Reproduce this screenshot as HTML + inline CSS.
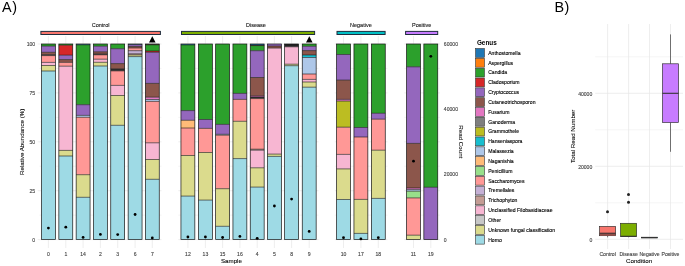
<!DOCTYPE html><html><head><meta charset="utf-8"><style>html,body{margin:0;padding:0;background:#fff;width:685px;height:266px;overflow:hidden}svg{display:block;will-change:transform}text{font-family:"Liberation Sans", sans-serif}.t{stroke:currentColor;stroke-width:0.12}</style></head><body>
<svg width="685" height="266" viewBox="0 0 685 266">
<rect width="685" height="266" fill="#fff"/>
<text x="2.0" y="12.3" font-size="14.4" letter-spacing="0.7" fill="#000">A)</text>
<text x="554.4" y="12.1" font-size="14.4" letter-spacing="0.5" fill="#000">B)</text>
<line x1="39.50" x2="161.50" y1="215.15" y2="215.15" stroke="#ececec" stroke-width="0.6"/>
<line x1="39.50" x2="161.50" y1="166.25" y2="166.25" stroke="#ececec" stroke-width="0.6"/>
<line x1="39.50" x2="161.50" y1="117.35" y2="117.35" stroke="#ececec" stroke-width="0.6"/>
<line x1="39.50" x2="161.50" y1="68.45" y2="68.45" stroke="#ececec" stroke-width="0.6"/>
<line x1="39.50" x2="161.50" y1="239.60" y2="239.60" stroke="#e6e6e6" stroke-width="0.7"/>
<line x1="39.50" x2="161.50" y1="190.70" y2="190.70" stroke="#e6e6e6" stroke-width="0.7"/>
<line x1="39.50" x2="161.50" y1="141.80" y2="141.80" stroke="#e6e6e6" stroke-width="0.7"/>
<line x1="39.50" x2="161.50" y1="92.90" y2="92.90" stroke="#e6e6e6" stroke-width="0.7"/>
<line x1="39.50" x2="161.50" y1="44.00" y2="44.00" stroke="#e6e6e6" stroke-width="0.7"/>
<line x1="178.30" x2="318.50" y1="215.15" y2="215.15" stroke="#ececec" stroke-width="0.6"/>
<line x1="178.30" x2="318.50" y1="166.25" y2="166.25" stroke="#ececec" stroke-width="0.6"/>
<line x1="178.30" x2="318.50" y1="117.35" y2="117.35" stroke="#ececec" stroke-width="0.6"/>
<line x1="178.30" x2="318.50" y1="68.45" y2="68.45" stroke="#ececec" stroke-width="0.6"/>
<line x1="178.30" x2="318.50" y1="239.60" y2="239.60" stroke="#e6e6e6" stroke-width="0.7"/>
<line x1="178.30" x2="318.50" y1="190.70" y2="190.70" stroke="#e6e6e6" stroke-width="0.7"/>
<line x1="178.30" x2="318.50" y1="141.80" y2="141.80" stroke="#e6e6e6" stroke-width="0.7"/>
<line x1="178.30" x2="318.50" y1="92.90" y2="92.90" stroke="#e6e6e6" stroke-width="0.7"/>
<line x1="178.30" x2="318.50" y1="44.00" y2="44.00" stroke="#e6e6e6" stroke-width="0.7"/>
<line x1="334.80" x2="387.50" y1="215.15" y2="215.15" stroke="#ececec" stroke-width="0.6"/>
<line x1="334.80" x2="387.50" y1="166.25" y2="166.25" stroke="#ececec" stroke-width="0.6"/>
<line x1="334.80" x2="387.50" y1="117.35" y2="117.35" stroke="#ececec" stroke-width="0.6"/>
<line x1="334.80" x2="387.50" y1="68.45" y2="68.45" stroke="#ececec" stroke-width="0.6"/>
<line x1="334.80" x2="387.50" y1="239.60" y2="239.60" stroke="#e6e6e6" stroke-width="0.7"/>
<line x1="334.80" x2="387.50" y1="190.70" y2="190.70" stroke="#e6e6e6" stroke-width="0.7"/>
<line x1="334.80" x2="387.50" y1="141.80" y2="141.80" stroke="#e6e6e6" stroke-width="0.7"/>
<line x1="334.80" x2="387.50" y1="92.90" y2="92.90" stroke="#e6e6e6" stroke-width="0.7"/>
<line x1="334.80" x2="387.50" y1="44.00" y2="44.00" stroke="#e6e6e6" stroke-width="0.7"/>
<line x1="404.30" x2="440.00" y1="215.15" y2="215.15" stroke="#ececec" stroke-width="0.6"/>
<line x1="404.30" x2="440.00" y1="166.25" y2="166.25" stroke="#ececec" stroke-width="0.6"/>
<line x1="404.30" x2="440.00" y1="117.35" y2="117.35" stroke="#ececec" stroke-width="0.6"/>
<line x1="404.30" x2="440.00" y1="68.45" y2="68.45" stroke="#ececec" stroke-width="0.6"/>
<line x1="404.30" x2="440.00" y1="239.60" y2="239.60" stroke="#e6e6e6" stroke-width="0.7"/>
<line x1="404.30" x2="440.00" y1="190.70" y2="190.70" stroke="#e6e6e6" stroke-width="0.7"/>
<line x1="404.30" x2="440.00" y1="141.80" y2="141.80" stroke="#e6e6e6" stroke-width="0.7"/>
<line x1="404.30" x2="440.00" y1="92.90" y2="92.90" stroke="#e6e6e6" stroke-width="0.7"/>
<line x1="404.30" x2="440.00" y1="44.00" y2="44.00" stroke="#e6e6e6" stroke-width="0.7"/>
<line x1="48.40" x2="48.40" y1="36.00" y2="248.00" stroke="#e6e6e6" stroke-width="0.7"/>
<line x1="65.80" x2="65.80" y1="36.00" y2="248.00" stroke="#e6e6e6" stroke-width="0.7"/>
<line x1="83.10" x2="83.10" y1="36.00" y2="248.00" stroke="#e6e6e6" stroke-width="0.7"/>
<line x1="100.40" x2="100.40" y1="36.00" y2="248.00" stroke="#e6e6e6" stroke-width="0.7"/>
<line x1="117.70" x2="117.70" y1="36.00" y2="248.00" stroke="#e6e6e6" stroke-width="0.7"/>
<line x1="135.10" x2="135.10" y1="36.00" y2="248.00" stroke="#e6e6e6" stroke-width="0.7"/>
<line x1="152.30" x2="152.30" y1="36.00" y2="248.00" stroke="#e6e6e6" stroke-width="0.7"/>
<line x1="187.90" x2="187.90" y1="36.00" y2="248.00" stroke="#e6e6e6" stroke-width="0.7"/>
<line x1="205.40" x2="205.40" y1="36.00" y2="248.00" stroke="#e6e6e6" stroke-width="0.7"/>
<line x1="222.60" x2="222.60" y1="36.00" y2="248.00" stroke="#e6e6e6" stroke-width="0.7"/>
<line x1="239.90" x2="239.90" y1="36.00" y2="248.00" stroke="#e6e6e6" stroke-width="0.7"/>
<line x1="257.20" x2="257.20" y1="36.00" y2="248.00" stroke="#e6e6e6" stroke-width="0.7"/>
<line x1="274.40" x2="274.40" y1="36.00" y2="248.00" stroke="#e6e6e6" stroke-width="0.7"/>
<line x1="291.60" x2="291.60" y1="36.00" y2="248.00" stroke="#e6e6e6" stroke-width="0.7"/>
<line x1="309.20" x2="309.20" y1="36.00" y2="248.00" stroke="#e6e6e6" stroke-width="0.7"/>
<line x1="343.50" x2="343.50" y1="36.00" y2="248.00" stroke="#e6e6e6" stroke-width="0.7"/>
<line x1="360.90" x2="360.90" y1="36.00" y2="248.00" stroke="#e6e6e6" stroke-width="0.7"/>
<line x1="378.30" x2="378.30" y1="36.00" y2="248.00" stroke="#e6e6e6" stroke-width="0.7"/>
<line x1="413.50" x2="413.50" y1="36.00" y2="248.00" stroke="#e6e6e6" stroke-width="0.7"/>
<line x1="430.80" x2="430.80" y1="36.00" y2="248.00" stroke="#e6e6e6" stroke-width="0.7"/>
<rect x="40.90" y="31.4" width="119.50" height="3.1" fill="#F8766D" stroke="#1f2d3d" stroke-width="1.0"/>
<text x="100.60" y="27.0" font-size="5.5" fill="#1a1a1a" class="t" style="color:#1a1a1a" text-anchor="middle">Control</text>
<rect x="181.50" y="31.4" width="133.10" height="3.1" fill="#7CAE00" stroke="#1f2d3d" stroke-width="1.0"/>
<text x="255.90" y="27.0" font-size="5.5" fill="#1a1a1a" class="t" style="color:#1a1a1a" text-anchor="middle">Disease</text>
<rect x="337.00" y="31.4" width="48.10" height="3.1" fill="#00BFC4" stroke="#1f2d3d" stroke-width="1.0"/>
<text x="360.90" y="27.0" font-size="5.5" fill="#1a1a1a" class="t" style="color:#1a1a1a" text-anchor="middle">Negative</text>
<rect x="405.60" y="31.4" width="32.10" height="3.1" fill="#C77CFF" stroke="#1f2d3d" stroke-width="1.0"/>
<text x="421.70" y="27.0" font-size="5.5" fill="#1a1a1a" class="t" style="color:#1a1a1a" text-anchor="middle">Positive</text>
<rect x="41.45" y="44.00" width="13.90" height="2.10" fill="#2ca02c"/>
<rect x="41.45" y="46.10" width="13.90" height="6.20" fill="#9467bd"/>
<rect x="41.45" y="52.30" width="13.90" height="2.40" fill="#8c564b"/>
<rect x="41.45" y="54.70" width="13.90" height="0.90" fill="#333333"/>
<rect x="41.45" y="55.60" width="13.90" height="6.80" fill="#ff9896"/>
<rect x="41.45" y="62.40" width="13.90" height="3.10" fill="#f7b6d2"/>
<rect x="41.45" y="65.50" width="13.90" height="5.50" fill="#dbdb8d"/>
<rect x="41.45" y="71.00" width="13.90" height="168.60" fill="#9edae5"/>
<line x1="41.45" x2="55.35" y1="46.10" y2="46.10" stroke="#141414" stroke-width="0.6"/>
<line x1="41.45" x2="55.35" y1="52.30" y2="52.30" stroke="#141414" stroke-width="0.6"/>
<line x1="41.45" x2="55.35" y1="54.70" y2="54.70" stroke="#141414" stroke-width="0.6"/>
<line x1="41.45" x2="55.35" y1="55.60" y2="55.60" stroke="#141414" stroke-width="0.6"/>
<line x1="41.45" x2="55.35" y1="62.40" y2="62.40" stroke="#141414" stroke-width="0.6"/>
<line x1="41.45" x2="55.35" y1="65.50" y2="65.50" stroke="#141414" stroke-width="0.6"/>
<line x1="41.45" x2="55.35" y1="71.00" y2="71.00" stroke="#141414" stroke-width="0.6"/>
<rect x="41.45" y="44.00" width="13.90" height="195.60" fill="none" stroke="#141414" stroke-width="0.7"/>
<circle cx="48.40" cy="228.10" r="1.4" fill="#000"/>
<text x="48.40" y="255.6" font-size="5.1" fill="#444" class="t" style="color:#444" text-anchor="middle">0</text>
<rect x="58.85" y="44.00" width="13.90" height="1.20" fill="#2ca02c"/>
<rect x="58.85" y="45.20" width="13.90" height="10.00" fill="#d62728"/>
<rect x="58.85" y="55.20" width="13.90" height="4.40" fill="#9467bd"/>
<rect x="58.85" y="59.60" width="13.90" height="2.80" fill="#8c564b"/>
<rect x="58.85" y="62.40" width="13.90" height="3.80" fill="#ff9896"/>
<rect x="58.85" y="66.20" width="13.90" height="84.20" fill="#f7b6d2"/>
<rect x="58.85" y="150.40" width="13.90" height="5.60" fill="#dbdb8d"/>
<rect x="58.85" y="156.00" width="13.90" height="83.60" fill="#9edae5"/>
<line x1="58.85" x2="72.75" y1="45.20" y2="45.20" stroke="#141414" stroke-width="0.6"/>
<line x1="58.85" x2="72.75" y1="55.20" y2="55.20" stroke="#141414" stroke-width="0.6"/>
<line x1="58.85" x2="72.75" y1="59.60" y2="59.60" stroke="#141414" stroke-width="0.6"/>
<line x1="58.85" x2="72.75" y1="62.40" y2="62.40" stroke="#141414" stroke-width="0.6"/>
<line x1="58.85" x2="72.75" y1="66.20" y2="66.20" stroke="#141414" stroke-width="0.6"/>
<line x1="58.85" x2="72.75" y1="150.40" y2="150.40" stroke="#141414" stroke-width="0.6"/>
<line x1="58.85" x2="72.75" y1="156.00" y2="156.00" stroke="#141414" stroke-width="0.6"/>
<rect x="58.85" y="44.00" width="13.90" height="195.60" fill="none" stroke="#141414" stroke-width="0.7"/>
<circle cx="65.80" cy="227.20" r="1.4" fill="#000"/>
<text x="65.80" y="255.6" font-size="5.1" fill="#444" class="t" style="color:#444" text-anchor="middle">1</text>
<rect x="76.15" y="44.00" width="13.90" height="0.80" fill="#1f77b4"/>
<rect x="76.15" y="44.80" width="13.90" height="59.90" fill="#2ca02c"/>
<rect x="76.15" y="104.70" width="13.90" height="10.70" fill="#9467bd"/>
<rect x="76.15" y="115.40" width="13.90" height="1.90" fill="#aec7e8"/>
<rect x="76.15" y="117.30" width="13.90" height="57.40" fill="#ff9896"/>
<rect x="76.15" y="174.70" width="13.90" height="22.60" fill="#dbdb8d"/>
<rect x="76.15" y="197.30" width="13.90" height="42.30" fill="#9edae5"/>
<line x1="76.15" x2="90.05" y1="44.80" y2="44.80" stroke="#141414" stroke-width="0.6"/>
<line x1="76.15" x2="90.05" y1="104.70" y2="104.70" stroke="#141414" stroke-width="0.6"/>
<line x1="76.15" x2="90.05" y1="115.40" y2="115.40" stroke="#141414" stroke-width="0.6"/>
<line x1="76.15" x2="90.05" y1="117.30" y2="117.30" stroke="#141414" stroke-width="0.6"/>
<line x1="76.15" x2="90.05" y1="174.70" y2="174.70" stroke="#141414" stroke-width="0.6"/>
<line x1="76.15" x2="90.05" y1="197.30" y2="197.30" stroke="#141414" stroke-width="0.6"/>
<rect x="76.15" y="44.00" width="13.90" height="195.60" fill="none" stroke="#141414" stroke-width="0.7"/>
<circle cx="83.10" cy="237.40" r="1.4" fill="#000"/>
<text x="83.10" y="255.6" font-size="5.1" fill="#444" class="t" style="color:#444" text-anchor="middle">14</text>
<rect x="93.45" y="44.00" width="13.90" height="2.20" fill="#2ca02c"/>
<rect x="93.45" y="46.20" width="13.90" height="5.60" fill="#9467bd"/>
<rect x="93.45" y="51.80" width="13.90" height="2.10" fill="#8c564b"/>
<rect x="93.45" y="53.90" width="13.90" height="0.90" fill="#333333"/>
<rect x="93.45" y="54.80" width="13.90" height="4.40" fill="#ff9896"/>
<rect x="93.45" y="59.20" width="13.90" height="3.10" fill="#f7b6d2"/>
<rect x="93.45" y="62.30" width="13.90" height="3.70" fill="#dbdb8d"/>
<rect x="93.45" y="66.00" width="13.90" height="173.60" fill="#9edae5"/>
<line x1="93.45" x2="107.35" y1="46.20" y2="46.20" stroke="#141414" stroke-width="0.6"/>
<line x1="93.45" x2="107.35" y1="51.80" y2="51.80" stroke="#141414" stroke-width="0.6"/>
<line x1="93.45" x2="107.35" y1="53.90" y2="53.90" stroke="#141414" stroke-width="0.6"/>
<line x1="93.45" x2="107.35" y1="54.80" y2="54.80" stroke="#141414" stroke-width="0.6"/>
<line x1="93.45" x2="107.35" y1="59.20" y2="59.20" stroke="#141414" stroke-width="0.6"/>
<line x1="93.45" x2="107.35" y1="62.30" y2="62.30" stroke="#141414" stroke-width="0.6"/>
<line x1="93.45" x2="107.35" y1="66.00" y2="66.00" stroke="#141414" stroke-width="0.6"/>
<rect x="93.45" y="44.00" width="13.90" height="195.60" fill="none" stroke="#141414" stroke-width="0.7"/>
<circle cx="100.40" cy="234.40" r="1.4" fill="#000"/>
<text x="100.40" y="255.6" font-size="5.1" fill="#444" class="t" style="color:#444" text-anchor="middle">2</text>
<rect x="110.75" y="44.00" width="13.90" height="4.70" fill="#2ca02c"/>
<rect x="110.75" y="48.70" width="13.90" height="14.90" fill="#9467bd"/>
<rect x="110.75" y="63.60" width="13.90" height="5.30" fill="#8c564b"/>
<rect x="110.75" y="68.90" width="13.90" height="2.00" fill="#333333"/>
<rect x="110.75" y="70.90" width="13.90" height="14.50" fill="#ff9896"/>
<rect x="110.75" y="85.40" width="13.90" height="10.10" fill="#f7b6d2"/>
<rect x="110.75" y="95.50" width="13.90" height="29.80" fill="#dbdb8d"/>
<rect x="110.75" y="125.30" width="13.90" height="114.30" fill="#9edae5"/>
<line x1="110.75" x2="124.65" y1="48.70" y2="48.70" stroke="#141414" stroke-width="0.6"/>
<line x1="110.75" x2="124.65" y1="63.60" y2="63.60" stroke="#141414" stroke-width="0.6"/>
<line x1="110.75" x2="124.65" y1="68.90" y2="68.90" stroke="#141414" stroke-width="0.6"/>
<line x1="110.75" x2="124.65" y1="70.90" y2="70.90" stroke="#141414" stroke-width="0.6"/>
<line x1="110.75" x2="124.65" y1="85.40" y2="85.40" stroke="#141414" stroke-width="0.6"/>
<line x1="110.75" x2="124.65" y1="95.50" y2="95.50" stroke="#141414" stroke-width="0.6"/>
<line x1="110.75" x2="124.65" y1="125.30" y2="125.30" stroke="#141414" stroke-width="0.6"/>
<rect x="110.75" y="44.00" width="13.90" height="195.60" fill="none" stroke="#141414" stroke-width="0.7"/>
<circle cx="117.70" cy="234.60" r="1.4" fill="#000"/>
<text x="117.70" y="255.6" font-size="5.1" fill="#444" class="t" style="color:#444" text-anchor="middle">3</text>
<rect x="128.15" y="44.00" width="13.90" height="0.70" fill="#1f77b4"/>
<rect x="128.15" y="44.70" width="13.90" height="1.80" fill="#9467bd"/>
<rect x="128.15" y="46.50" width="13.90" height="1.50" fill="#8c564b"/>
<rect x="128.15" y="48.00" width="13.90" height="2.70" fill="#ff9896"/>
<rect x="128.15" y="50.70" width="13.90" height="3.10" fill="#c5b0d5"/>
<rect x="128.15" y="53.80" width="13.90" height="1.10" fill="#c49c94"/>
<rect x="128.15" y="54.90" width="13.90" height="1.70" fill="#dbdb8d"/>
<rect x="128.15" y="56.60" width="13.90" height="183.00" fill="#9edae5"/>
<line x1="128.15" x2="142.05" y1="44.70" y2="44.70" stroke="#141414" stroke-width="0.6"/>
<line x1="128.15" x2="142.05" y1="46.50" y2="46.50" stroke="#141414" stroke-width="0.6"/>
<line x1="128.15" x2="142.05" y1="48.00" y2="48.00" stroke="#141414" stroke-width="0.6"/>
<line x1="128.15" x2="142.05" y1="50.70" y2="50.70" stroke="#141414" stroke-width="0.6"/>
<line x1="128.15" x2="142.05" y1="53.80" y2="53.80" stroke="#141414" stroke-width="0.6"/>
<line x1="128.15" x2="142.05" y1="54.90" y2="54.90" stroke="#141414" stroke-width="0.6"/>
<line x1="128.15" x2="142.05" y1="56.60" y2="56.60" stroke="#141414" stroke-width="0.6"/>
<rect x="128.15" y="44.00" width="13.90" height="195.60" fill="none" stroke="#141414" stroke-width="0.7"/>
<circle cx="135.10" cy="214.50" r="1.4" fill="#000"/>
<text x="135.10" y="255.6" font-size="5.1" fill="#444" class="t" style="color:#444" text-anchor="middle">6</text>
<rect x="145.35" y="44.00" width="13.90" height="0.80" fill="#3a1a14"/>
<rect x="145.35" y="44.80" width="13.90" height="6.20" fill="#2ca02c"/>
<rect x="145.35" y="51.00" width="13.90" height="1.30" fill="#d62728"/>
<rect x="145.35" y="52.30" width="13.90" height="31.10" fill="#9467bd"/>
<rect x="145.35" y="83.40" width="13.90" height="13.80" fill="#8c564b"/>
<rect x="145.35" y="97.20" width="13.90" height="2.30" fill="#e377c2"/>
<rect x="145.35" y="99.50" width="13.90" height="1.90" fill="#aec7e8"/>
<rect x="145.35" y="101.40" width="13.90" height="41.40" fill="#ff9896"/>
<rect x="145.35" y="142.80" width="13.90" height="16.70" fill="#f7b6d2"/>
<rect x="145.35" y="159.50" width="13.90" height="19.80" fill="#dbdb8d"/>
<rect x="145.35" y="179.30" width="13.90" height="60.30" fill="#9edae5"/>
<line x1="145.35" x2="159.25" y1="44.80" y2="44.80" stroke="#141414" stroke-width="0.6"/>
<line x1="145.35" x2="159.25" y1="51.00" y2="51.00" stroke="#141414" stroke-width="0.6"/>
<line x1="145.35" x2="159.25" y1="52.30" y2="52.30" stroke="#141414" stroke-width="0.6"/>
<line x1="145.35" x2="159.25" y1="83.40" y2="83.40" stroke="#141414" stroke-width="0.6"/>
<line x1="145.35" x2="159.25" y1="97.20" y2="97.20" stroke="#141414" stroke-width="0.6"/>
<line x1="145.35" x2="159.25" y1="99.50" y2="99.50" stroke="#141414" stroke-width="0.6"/>
<line x1="145.35" x2="159.25" y1="101.40" y2="101.40" stroke="#141414" stroke-width="0.6"/>
<line x1="145.35" x2="159.25" y1="142.80" y2="142.80" stroke="#141414" stroke-width="0.6"/>
<line x1="145.35" x2="159.25" y1="159.50" y2="159.50" stroke="#141414" stroke-width="0.6"/>
<line x1="145.35" x2="159.25" y1="179.30" y2="179.30" stroke="#141414" stroke-width="0.6"/>
<rect x="145.35" y="44.00" width="13.90" height="195.60" fill="none" stroke="#141414" stroke-width="0.7"/>
<circle cx="152.30" cy="237.90" r="1.4" fill="#000"/>
<text x="152.30" y="255.6" font-size="5.1" fill="#444" class="t" style="color:#444" text-anchor="middle">7</text>
<rect x="180.95" y="44.00" width="13.90" height="0.90" fill="#1f77b4"/>
<rect x="180.95" y="44.90" width="13.90" height="65.70" fill="#2ca02c"/>
<rect x="180.95" y="110.60" width="13.90" height="9.70" fill="#9467bd"/>
<rect x="180.95" y="120.30" width="13.90" height="7.70" fill="#ffbb78"/>
<rect x="180.95" y="128.00" width="13.90" height="27.50" fill="#ff9896"/>
<rect x="180.95" y="155.50" width="13.90" height="40.60" fill="#dbdb8d"/>
<rect x="180.95" y="196.10" width="13.90" height="43.50" fill="#9edae5"/>
<line x1="180.95" x2="194.85" y1="44.90" y2="44.90" stroke="#141414" stroke-width="0.6"/>
<line x1="180.95" x2="194.85" y1="110.60" y2="110.60" stroke="#141414" stroke-width="0.6"/>
<line x1="180.95" x2="194.85" y1="120.30" y2="120.30" stroke="#141414" stroke-width="0.6"/>
<line x1="180.95" x2="194.85" y1="128.00" y2="128.00" stroke="#141414" stroke-width="0.6"/>
<line x1="180.95" x2="194.85" y1="155.50" y2="155.50" stroke="#141414" stroke-width="0.6"/>
<line x1="180.95" x2="194.85" y1="196.10" y2="196.10" stroke="#141414" stroke-width="0.6"/>
<rect x="180.95" y="44.00" width="13.90" height="195.60" fill="none" stroke="#141414" stroke-width="0.7"/>
<circle cx="187.90" cy="237.00" r="1.4" fill="#000"/>
<text x="187.90" y="255.6" font-size="5.1" fill="#444" class="t" style="color:#444" text-anchor="middle">12</text>
<rect x="198.45" y="44.00" width="13.90" height="75.50" fill="#2ca02c"/>
<rect x="198.45" y="119.50" width="13.90" height="8.90" fill="#9467bd"/>
<rect x="198.45" y="128.40" width="13.90" height="24.10" fill="#ff9896"/>
<rect x="198.45" y="152.50" width="13.90" height="47.60" fill="#dbdb8d"/>
<rect x="198.45" y="200.10" width="13.90" height="39.50" fill="#9edae5"/>
<line x1="198.45" x2="212.35" y1="119.50" y2="119.50" stroke="#141414" stroke-width="0.6"/>
<line x1="198.45" x2="212.35" y1="128.40" y2="128.40" stroke="#141414" stroke-width="0.6"/>
<line x1="198.45" x2="212.35" y1="152.50" y2="152.50" stroke="#141414" stroke-width="0.6"/>
<line x1="198.45" x2="212.35" y1="200.10" y2="200.10" stroke="#141414" stroke-width="0.6"/>
<rect x="198.45" y="44.00" width="13.90" height="195.60" fill="none" stroke="#141414" stroke-width="0.7"/>
<circle cx="205.40" cy="237.00" r="1.4" fill="#000"/>
<text x="205.40" y="255.6" font-size="5.1" fill="#444" class="t" style="color:#444" text-anchor="middle">13</text>
<rect x="215.65" y="44.00" width="13.90" height="80.40" fill="#2ca02c"/>
<rect x="215.65" y="124.40" width="13.90" height="9.90" fill="#9467bd"/>
<rect x="215.65" y="134.30" width="13.90" height="0.90" fill="#aec7e8"/>
<rect x="215.65" y="135.20" width="13.90" height="53.50" fill="#ff9896"/>
<rect x="215.65" y="188.70" width="13.90" height="37.60" fill="#dbdb8d"/>
<rect x="215.65" y="226.30" width="13.90" height="13.30" fill="#9edae5"/>
<line x1="215.65" x2="229.55" y1="124.40" y2="124.40" stroke="#141414" stroke-width="0.6"/>
<line x1="215.65" x2="229.55" y1="134.30" y2="134.30" stroke="#141414" stroke-width="0.6"/>
<line x1="215.65" x2="229.55" y1="135.20" y2="135.20" stroke="#141414" stroke-width="0.6"/>
<line x1="215.65" x2="229.55" y1="188.70" y2="188.70" stroke="#141414" stroke-width="0.6"/>
<line x1="215.65" x2="229.55" y1="226.30" y2="226.30" stroke="#141414" stroke-width="0.6"/>
<rect x="215.65" y="44.00" width="13.90" height="195.60" fill="none" stroke="#141414" stroke-width="0.7"/>
<circle cx="222.60" cy="237.50" r="1.4" fill="#000"/>
<text x="222.60" y="255.6" font-size="5.1" fill="#444" class="t" style="color:#444" text-anchor="middle">15</text>
<rect x="232.95" y="44.00" width="13.90" height="49.40" fill="#2ca02c"/>
<rect x="232.95" y="93.40" width="13.90" height="6.00" fill="#9467bd"/>
<rect x="232.95" y="99.40" width="13.90" height="21.90" fill="#ff9896"/>
<rect x="232.95" y="121.30" width="13.90" height="37.30" fill="#dbdb8d"/>
<rect x="232.95" y="158.60" width="13.90" height="81.00" fill="#9edae5"/>
<line x1="232.95" x2="246.85" y1="93.40" y2="93.40" stroke="#141414" stroke-width="0.6"/>
<line x1="232.95" x2="246.85" y1="99.40" y2="99.40" stroke="#141414" stroke-width="0.6"/>
<line x1="232.95" x2="246.85" y1="121.30" y2="121.30" stroke="#141414" stroke-width="0.6"/>
<line x1="232.95" x2="246.85" y1="158.60" y2="158.60" stroke="#141414" stroke-width="0.6"/>
<rect x="232.95" y="44.00" width="13.90" height="195.60" fill="none" stroke="#141414" stroke-width="0.7"/>
<circle cx="239.90" cy="236.40" r="1.4" fill="#000"/>
<text x="239.90" y="255.6" font-size="5.1" fill="#444" class="t" style="color:#444" text-anchor="middle">16</text>
<rect x="250.25" y="44.00" width="13.90" height="1.00" fill="#1f77b4"/>
<rect x="250.25" y="45.00" width="13.90" height="0.60" fill="#3a1a14"/>
<rect x="250.25" y="45.60" width="13.90" height="5.10" fill="#2ca02c"/>
<rect x="250.25" y="50.70" width="13.90" height="26.80" fill="#9467bd"/>
<rect x="250.25" y="77.50" width="13.90" height="18.40" fill="#8c564b"/>
<rect x="250.25" y="95.90" width="13.90" height="1.10" fill="#e377c2"/>
<rect x="250.25" y="97.00" width="13.90" height="1.60" fill="#333333"/>
<rect x="250.25" y="98.60" width="13.90" height="50.60" fill="#ff9896"/>
<rect x="250.25" y="149.20" width="13.90" height="1.00" fill="#c49c94"/>
<rect x="250.25" y="150.20" width="13.90" height="17.60" fill="#f7b6d2"/>
<rect x="250.25" y="167.80" width="13.90" height="19.30" fill="#dbdb8d"/>
<rect x="250.25" y="187.10" width="13.90" height="52.50" fill="#9edae5"/>
<line x1="250.25" x2="264.15" y1="45.00" y2="45.00" stroke="#141414" stroke-width="0.6"/>
<line x1="250.25" x2="264.15" y1="45.60" y2="45.60" stroke="#141414" stroke-width="0.6"/>
<line x1="250.25" x2="264.15" y1="50.70" y2="50.70" stroke="#141414" stroke-width="0.6"/>
<line x1="250.25" x2="264.15" y1="77.50" y2="77.50" stroke="#141414" stroke-width="0.6"/>
<line x1="250.25" x2="264.15" y1="95.90" y2="95.90" stroke="#141414" stroke-width="0.6"/>
<line x1="250.25" x2="264.15" y1="97.00" y2="97.00" stroke="#141414" stroke-width="0.6"/>
<line x1="250.25" x2="264.15" y1="98.60" y2="98.60" stroke="#141414" stroke-width="0.6"/>
<line x1="250.25" x2="264.15" y1="149.20" y2="149.20" stroke="#141414" stroke-width="0.6"/>
<line x1="250.25" x2="264.15" y1="150.20" y2="150.20" stroke="#141414" stroke-width="0.6"/>
<line x1="250.25" x2="264.15" y1="167.80" y2="167.80" stroke="#141414" stroke-width="0.6"/>
<line x1="250.25" x2="264.15" y1="187.10" y2="187.10" stroke="#141414" stroke-width="0.6"/>
<rect x="250.25" y="44.00" width="13.90" height="195.60" fill="none" stroke="#141414" stroke-width="0.7"/>
<circle cx="257.20" cy="238.30" r="1.4" fill="#000"/>
<text x="257.20" y="255.6" font-size="5.1" fill="#444" class="t" style="color:#444" text-anchor="middle">4</text>
<rect x="267.45" y="44.00" width="13.90" height="2.00" fill="#9467bd"/>
<rect x="267.45" y="46.00" width="13.90" height="2.10" fill="#8c564b"/>
<rect x="267.45" y="48.10" width="13.90" height="106.00" fill="#f7b6d2"/>
<rect x="267.45" y="154.10" width="13.90" height="2.30" fill="#dbdb8d"/>
<rect x="267.45" y="156.40" width="13.90" height="83.20" fill="#9edae5"/>
<line x1="267.45" x2="281.35" y1="46.00" y2="46.00" stroke="#141414" stroke-width="0.6"/>
<line x1="267.45" x2="281.35" y1="48.10" y2="48.10" stroke="#141414" stroke-width="0.6"/>
<line x1="267.45" x2="281.35" y1="154.10" y2="154.10" stroke="#141414" stroke-width="0.6"/>
<line x1="267.45" x2="281.35" y1="156.40" y2="156.40" stroke="#141414" stroke-width="0.6"/>
<rect x="267.45" y="44.00" width="13.90" height="195.60" fill="none" stroke="#141414" stroke-width="0.7"/>
<circle cx="274.40" cy="206.00" r="1.4" fill="#000"/>
<text x="274.40" y="255.6" font-size="5.1" fill="#444" class="t" style="color:#444" text-anchor="middle">5</text>
<rect x="284.65" y="44.00" width="13.90" height="2.80" fill="#222222"/>
<rect x="284.65" y="46.80" width="13.90" height="17.40" fill="#f7b6d2"/>
<rect x="284.65" y="64.20" width="13.90" height="1.50" fill="#dbdb8d"/>
<rect x="284.65" y="65.70" width="13.90" height="173.90" fill="#9edae5"/>
<line x1="284.65" x2="298.55" y1="46.80" y2="46.80" stroke="#141414" stroke-width="0.6"/>
<line x1="284.65" x2="298.55" y1="64.20" y2="64.20" stroke="#141414" stroke-width="0.6"/>
<line x1="284.65" x2="298.55" y1="65.70" y2="65.70" stroke="#141414" stroke-width="0.6"/>
<rect x="284.65" y="44.00" width="13.90" height="195.60" fill="none" stroke="#141414" stroke-width="0.7"/>
<circle cx="291.60" cy="199.10" r="1.4" fill="#000"/>
<text x="291.60" y="255.6" font-size="5.1" fill="#444" class="t" style="color:#444" text-anchor="middle">8</text>
<rect x="302.25" y="44.00" width="13.90" height="2.30" fill="#2ca02c"/>
<rect x="302.25" y="46.30" width="13.90" height="4.30" fill="#9467bd"/>
<rect x="302.25" y="50.60" width="13.90" height="4.40" fill="#8c564b"/>
<rect x="302.25" y="55.00" width="13.90" height="2.50" fill="#17becf"/>
<rect x="302.25" y="57.50" width="13.90" height="16.50" fill="#aec7e8"/>
<rect x="302.25" y="74.00" width="13.90" height="5.40" fill="#ff9896"/>
<rect x="302.25" y="79.40" width="13.90" height="2.60" fill="#f7b6d2"/>
<rect x="302.25" y="82.00" width="13.90" height="5.20" fill="#dbdb8d"/>
<rect x="302.25" y="87.20" width="13.90" height="152.40" fill="#9edae5"/>
<line x1="302.25" x2="316.15" y1="46.30" y2="46.30" stroke="#141414" stroke-width="0.6"/>
<line x1="302.25" x2="316.15" y1="50.60" y2="50.60" stroke="#141414" stroke-width="0.6"/>
<line x1="302.25" x2="316.15" y1="55.00" y2="55.00" stroke="#141414" stroke-width="0.6"/>
<line x1="302.25" x2="316.15" y1="57.50" y2="57.50" stroke="#141414" stroke-width="0.6"/>
<line x1="302.25" x2="316.15" y1="74.00" y2="74.00" stroke="#141414" stroke-width="0.6"/>
<line x1="302.25" x2="316.15" y1="79.40" y2="79.40" stroke="#141414" stroke-width="0.6"/>
<line x1="302.25" x2="316.15" y1="82.00" y2="82.00" stroke="#141414" stroke-width="0.6"/>
<line x1="302.25" x2="316.15" y1="87.20" y2="87.20" stroke="#141414" stroke-width="0.6"/>
<rect x="302.25" y="44.00" width="13.90" height="195.60" fill="none" stroke="#141414" stroke-width="0.7"/>
<circle cx="309.20" cy="231.40" r="1.4" fill="#000"/>
<text x="309.20" y="255.6" font-size="5.1" fill="#444" class="t" style="color:#444" text-anchor="middle">9</text>
<rect x="336.55" y="44.00" width="13.90" height="10.50" fill="#2ca02c"/>
<rect x="336.55" y="54.50" width="13.90" height="25.60" fill="#9467bd"/>
<rect x="336.55" y="80.10" width="13.90" height="19.30" fill="#8c564b"/>
<rect x="336.55" y="99.40" width="13.90" height="1.70" fill="#e377c2"/>
<rect x="336.55" y="101.10" width="13.90" height="26.10" fill="#bcbd22"/>
<rect x="336.55" y="127.20" width="13.90" height="27.20" fill="#ff9896"/>
<rect x="336.55" y="154.40" width="13.90" height="14.50" fill="#f7b6d2"/>
<rect x="336.55" y="168.90" width="13.90" height="30.60" fill="#dbdb8d"/>
<rect x="336.55" y="199.50" width="13.90" height="40.10" fill="#9edae5"/>
<line x1="336.55" x2="350.45" y1="54.50" y2="54.50" stroke="#141414" stroke-width="0.6"/>
<line x1="336.55" x2="350.45" y1="80.10" y2="80.10" stroke="#141414" stroke-width="0.6"/>
<line x1="336.55" x2="350.45" y1="99.40" y2="99.40" stroke="#141414" stroke-width="0.6"/>
<line x1="336.55" x2="350.45" y1="101.10" y2="101.10" stroke="#141414" stroke-width="0.6"/>
<line x1="336.55" x2="350.45" y1="127.20" y2="127.20" stroke="#141414" stroke-width="0.6"/>
<line x1="336.55" x2="350.45" y1="154.40" y2="154.40" stroke="#141414" stroke-width="0.6"/>
<line x1="336.55" x2="350.45" y1="168.90" y2="168.90" stroke="#141414" stroke-width="0.6"/>
<line x1="336.55" x2="350.45" y1="199.50" y2="199.50" stroke="#141414" stroke-width="0.6"/>
<rect x="336.55" y="44.00" width="13.90" height="195.60" fill="none" stroke="#141414" stroke-width="0.7"/>
<circle cx="343.50" cy="237.70" r="1.4" fill="#000"/>
<text x="343.50" y="255.6" font-size="5.1" fill="#444" class="t" style="color:#444" text-anchor="middle">10</text>
<rect x="353.95" y="44.00" width="13.90" height="83.50" fill="#2ca02c"/>
<rect x="353.95" y="127.50" width="13.90" height="9.50" fill="#9467bd"/>
<rect x="353.95" y="137.00" width="13.90" height="62.40" fill="#ff9896"/>
<rect x="353.95" y="199.40" width="13.90" height="34.00" fill="#dbdb8d"/>
<rect x="353.95" y="233.40" width="13.90" height="6.20" fill="#9edae5"/>
<line x1="353.95" x2="367.85" y1="127.50" y2="127.50" stroke="#141414" stroke-width="0.6"/>
<line x1="353.95" x2="367.85" y1="137.00" y2="137.00" stroke="#141414" stroke-width="0.6"/>
<line x1="353.95" x2="367.85" y1="199.40" y2="199.40" stroke="#141414" stroke-width="0.6"/>
<line x1="353.95" x2="367.85" y1="233.40" y2="233.40" stroke="#141414" stroke-width="0.6"/>
<rect x="353.95" y="44.00" width="13.90" height="195.60" fill="none" stroke="#141414" stroke-width="0.7"/>
<circle cx="360.90" cy="238.90" r="1.4" fill="#000"/>
<text x="360.90" y="255.6" font-size="5.1" fill="#444" class="t" style="color:#444" text-anchor="middle">17</text>
<rect x="371.35" y="44.00" width="13.90" height="69.30" fill="#2ca02c"/>
<rect x="371.35" y="113.30" width="13.90" height="5.90" fill="#9467bd"/>
<rect x="371.35" y="119.20" width="13.90" height="31.00" fill="#ff9896"/>
<rect x="371.35" y="150.20" width="13.90" height="48.20" fill="#dbdb8d"/>
<rect x="371.35" y="198.40" width="13.90" height="41.20" fill="#9edae5"/>
<line x1="371.35" x2="385.25" y1="113.30" y2="113.30" stroke="#141414" stroke-width="0.6"/>
<line x1="371.35" x2="385.25" y1="119.20" y2="119.20" stroke="#141414" stroke-width="0.6"/>
<line x1="371.35" x2="385.25" y1="150.20" y2="150.20" stroke="#141414" stroke-width="0.6"/>
<line x1="371.35" x2="385.25" y1="198.40" y2="198.40" stroke="#141414" stroke-width="0.6"/>
<rect x="371.35" y="44.00" width="13.90" height="195.60" fill="none" stroke="#141414" stroke-width="0.7"/>
<circle cx="378.30" cy="237.70" r="1.4" fill="#000"/>
<text x="378.30" y="255.6" font-size="5.1" fill="#444" class="t" style="color:#444" text-anchor="middle">18</text>
<rect x="406.55" y="44.00" width="13.90" height="22.80" fill="#2ca02c"/>
<rect x="406.55" y="66.80" width="13.90" height="76.60" fill="#9467bd"/>
<rect x="406.55" y="143.40" width="13.90" height="44.60" fill="#8c564b"/>
<rect x="406.55" y="188.00" width="13.90" height="1.60" fill="#e377c2"/>
<rect x="406.55" y="189.60" width="13.90" height="1.60" fill="#aec7e8"/>
<rect x="406.55" y="191.20" width="13.90" height="6.70" fill="#98df8a"/>
<rect x="406.55" y="197.90" width="13.90" height="37.30" fill="#ff9896"/>
<rect x="406.55" y="235.20" width="13.90" height="4.40" fill="#dbdb8d"/>
<line x1="406.55" x2="420.45" y1="66.80" y2="66.80" stroke="#141414" stroke-width="0.6"/>
<line x1="406.55" x2="420.45" y1="143.40" y2="143.40" stroke="#141414" stroke-width="0.6"/>
<line x1="406.55" x2="420.45" y1="188.00" y2="188.00" stroke="#141414" stroke-width="0.6"/>
<line x1="406.55" x2="420.45" y1="189.60" y2="189.60" stroke="#141414" stroke-width="0.6"/>
<line x1="406.55" x2="420.45" y1="191.20" y2="191.20" stroke="#141414" stroke-width="0.6"/>
<line x1="406.55" x2="420.45" y1="197.90" y2="197.90" stroke="#141414" stroke-width="0.6"/>
<line x1="406.55" x2="420.45" y1="235.20" y2="235.20" stroke="#141414" stroke-width="0.6"/>
<rect x="406.55" y="44.00" width="13.90" height="195.60" fill="none" stroke="#141414" stroke-width="0.7"/>
<circle cx="413.50" cy="161.20" r="1.4" fill="#000"/>
<text x="413.50" y="255.6" font-size="5.1" fill="#444" class="t" style="color:#444" text-anchor="middle">11</text>
<rect x="423.85" y="44.00" width="13.90" height="143.30" fill="#2ca02c"/>
<rect x="423.85" y="187.30" width="13.90" height="52.30" fill="#9467bd"/>
<line x1="423.85" x2="437.75" y1="187.30" y2="187.30" stroke="#141414" stroke-width="0.6"/>
<rect x="423.85" y="44.00" width="13.90" height="195.60" fill="none" stroke="#141414" stroke-width="0.7"/>
<circle cx="430.80" cy="56.30" r="1.4" fill="#000"/>
<text x="430.80" y="255.6" font-size="5.1" fill="#444" class="t" style="color:#444" text-anchor="middle">19</text>
<polygon points="152.30,36.2 149.00,42.4 155.60,42.4" fill="#000"/>
<polygon points="309.30,36.2 306.00,42.4 312.60,42.4" fill="#000"/>
<text x="35.2" y="46.05" font-size="5.1" fill="#444" class="t" style="color:#444" text-anchor="end">100</text>
<line x1="37.7" x2="39.7" y1="44.00" y2="44.00" stroke="#e0e0e0" stroke-width="0.6"/>
<text x="35.2" y="94.95" font-size="5.1" fill="#444" class="t" style="color:#444" text-anchor="end">75</text>
<line x1="37.7" x2="39.7" y1="92.90" y2="92.90" stroke="#e0e0e0" stroke-width="0.6"/>
<text x="35.2" y="143.85" font-size="5.1" fill="#444" class="t" style="color:#444" text-anchor="end">50</text>
<line x1="37.7" x2="39.7" y1="141.80" y2="141.80" stroke="#e0e0e0" stroke-width="0.6"/>
<text x="35.2" y="192.75" font-size="5.1" fill="#444" class="t" style="color:#444" text-anchor="end">25</text>
<line x1="37.7" x2="39.7" y1="190.70" y2="190.70" stroke="#e0e0e0" stroke-width="0.6"/>
<text x="35.2" y="241.65" font-size="5.1" fill="#444" class="t" style="color:#444" text-anchor="end">0</text>
<line x1="37.7" x2="39.7" y1="239.60" y2="239.60" stroke="#e0e0e0" stroke-width="0.6"/>
<text x="443.8" y="46.05" font-size="5.1" fill="#444" class="t" style="color:#444">60000</text>
<text x="443.8" y="111.25" font-size="5.1" fill="#444" class="t" style="color:#444">40000</text>
<text x="443.8" y="176.45" font-size="5.1" fill="#444" class="t" style="color:#444">20000</text>
<text x="443.8" y="241.65" font-size="5.1" fill="#444" class="t" style="color:#444">0</text>
<text transform="translate(23.6,141.8) rotate(-90)" font-size="6.2" fill="#000" class="t" style="color:#000;stroke-width:0.08" text-anchor="middle">Relative Abundance (%)</text>
<text transform="translate(459.2,141.8) rotate(90)" font-size="6.2" fill="#000" class="t" style="color:#000;stroke-width:0.08" text-anchor="middle">Read Count</text>
<text x="231.4" y="262.9" font-size="6.2" fill="#000" class="t" style="color:#000;stroke-width:0.08" text-anchor="middle">Sample</text>
<text x="476.9" y="44.5" font-size="6.4" font-weight="bold" fill="#000">Genus</text>
<rect x="475.6" y="48.55" width="8.80" height="8.80" fill="#1f77b4" stroke="#333" stroke-width="0.6"/>
<text x="488.2" y="54.75" font-size="5.1" fill="#000" class="t" style="color:#000">Anthostomella</text>
<rect x="475.6" y="58.38" width="8.80" height="8.80" fill="#ff7f0e" stroke="#333" stroke-width="0.6"/>
<text x="488.2" y="64.58" font-size="5.1" fill="#000" class="t" style="color:#000">Aspergillus</text>
<rect x="475.6" y="68.21" width="8.80" height="8.80" fill="#2ca02c" stroke="#333" stroke-width="0.6"/>
<text x="488.2" y="74.41" font-size="5.1" fill="#000" class="t" style="color:#000">Candida</text>
<rect x="475.6" y="78.04" width="8.80" height="8.80" fill="#d62728" stroke="#333" stroke-width="0.6"/>
<text x="488.2" y="84.24" font-size="5.1" fill="#000" class="t" style="color:#000">Cladosporium</text>
<rect x="475.6" y="87.87" width="8.80" height="8.80" fill="#9467bd" stroke="#333" stroke-width="0.6"/>
<text x="488.2" y="94.07" font-size="5.1" fill="#000" class="t" style="color:#000">Cryptococcus</text>
<rect x="475.6" y="97.70" width="8.80" height="8.80" fill="#8c564b" stroke="#333" stroke-width="0.6"/>
<text x="488.2" y="103.90" font-size="5.1" fill="#000" class="t" style="color:#000">Cutaneotrichosporon</text>
<rect x="475.6" y="107.53" width="8.80" height="8.80" fill="#e377c2" stroke="#333" stroke-width="0.6"/>
<text x="488.2" y="113.73" font-size="5.1" fill="#000" class="t" style="color:#000">Fusarium</text>
<rect x="475.6" y="117.36" width="8.80" height="8.80" fill="#7f7f7f" stroke="#333" stroke-width="0.6"/>
<text x="488.2" y="123.56" font-size="5.1" fill="#000" class="t" style="color:#000">Ganoderma</text>
<rect x="475.6" y="127.19" width="8.80" height="8.80" fill="#bcbd22" stroke="#333" stroke-width="0.6"/>
<text x="488.2" y="133.39" font-size="5.1" fill="#000" class="t" style="color:#000">Grammothele</text>
<rect x="475.6" y="137.02" width="8.80" height="8.80" fill="#17becf" stroke="#333" stroke-width="0.6"/>
<text x="488.2" y="143.22" font-size="5.1" fill="#000" class="t" style="color:#000">Hanseniaspora</text>
<rect x="475.6" y="146.85" width="8.80" height="8.80" fill="#aec7e8" stroke="#333" stroke-width="0.6"/>
<text x="488.2" y="153.05" font-size="5.1" fill="#000" class="t" style="color:#000">Malassezia</text>
<rect x="475.6" y="156.68" width="8.80" height="8.80" fill="#ffbb78" stroke="#333" stroke-width="0.6"/>
<text x="488.2" y="162.88" font-size="5.1" fill="#000" class="t" style="color:#000">Naganishia</text>
<rect x="475.6" y="166.51" width="8.80" height="8.80" fill="#98df8a" stroke="#333" stroke-width="0.6"/>
<text x="488.2" y="172.71" font-size="5.1" fill="#000" class="t" style="color:#000">Penicillium</text>
<rect x="475.6" y="176.34" width="8.80" height="8.80" fill="#ff9896" stroke="#333" stroke-width="0.6"/>
<text x="488.2" y="182.54" font-size="5.1" fill="#000" class="t" style="color:#000">Saccharomyces</text>
<rect x="475.6" y="186.17" width="8.80" height="8.80" fill="#c5b0d5" stroke="#333" stroke-width="0.6"/>
<text x="488.2" y="192.37" font-size="5.1" fill="#000" class="t" style="color:#000">Tremellales</text>
<rect x="475.6" y="196.00" width="8.80" height="8.80" fill="#c49c94" stroke="#333" stroke-width="0.6"/>
<text x="488.2" y="202.20" font-size="5.1" fill="#000" class="t" style="color:#000">Trichophyton</text>
<rect x="475.6" y="205.83" width="8.80" height="8.80" fill="#f7b6d2" stroke="#333" stroke-width="0.6"/>
<text x="488.2" y="212.03" font-size="5.1" fill="#000" class="t" style="color:#000">Unclassified Filobasidiaceae</text>
<rect x="475.6" y="215.66" width="8.80" height="8.80" fill="#c7c7c7" stroke="#333" stroke-width="0.6"/>
<text x="488.2" y="221.86" font-size="5.1" fill="#000" class="t" style="color:#000">Other</text>
<rect x="475.6" y="225.49" width="8.80" height="8.80" fill="#dbdb8d" stroke="#333" stroke-width="0.6"/>
<text x="488.2" y="231.69" font-size="5.1" fill="#000" class="t" style="color:#000">Unknown fungal classification</text>
<rect x="475.6" y="235.32" width="8.80" height="8.80" fill="#9edae5" stroke="#333" stroke-width="0.6"/>
<text x="488.2" y="241.52" font-size="5.1" fill="#000" class="t" style="color:#000">Homo</text>
<line x1="595.20" x2="683.00" y1="202.80" y2="202.80" stroke="#ececec" stroke-width="0.6"/>
<line x1="595.20" x2="683.00" y1="129.80" y2="129.80" stroke="#ececec" stroke-width="0.6"/>
<line x1="595.20" x2="683.00" y1="56.80" y2="56.80" stroke="#ececec" stroke-width="0.6"/>
<line x1="595.20" x2="683.00" y1="239.30" y2="239.30" stroke="#e6e6e6" stroke-width="0.7"/>
<line x1="595.20" x2="683.00" y1="166.30" y2="166.30" stroke="#e6e6e6" stroke-width="0.7"/>
<line x1="595.20" x2="683.00" y1="93.30" y2="93.30" stroke="#e6e6e6" stroke-width="0.7"/>
<line x1="607.60" x2="607.60" y1="24.00" y2="249.00" stroke="#e6e6e6" stroke-width="0.7"/>
<line x1="628.60" x2="628.60" y1="24.00" y2="249.00" stroke="#e6e6e6" stroke-width="0.7"/>
<line x1="649.50" x2="649.50" y1="24.00" y2="249.00" stroke="#e6e6e6" stroke-width="0.7"/>
<line x1="670.50" x2="670.50" y1="24.00" y2="249.00" stroke="#e6e6e6" stroke-width="0.7"/>
<text x="592.3" y="95.90" font-size="5.1" fill="#444" class="t" style="color:#444" text-anchor="end">40000</text>
<text x="592.3" y="168.90" font-size="5.1" fill="#444" class="t" style="color:#444" text-anchor="end">20000</text>
<text x="592.3" y="241.90" font-size="5.1" fill="#444" class="t" style="color:#444" text-anchor="end">0</text>
<text x="607.60" y="255.7" font-size="5.1" fill="#444" class="t" style="color:#444" text-anchor="middle">Control</text>
<text x="628.60" y="255.7" font-size="5.1" fill="#444" class="t" style="color:#444" text-anchor="middle">Disease</text>
<text x="649.50" y="255.7" font-size="5.1" fill="#444" class="t" style="color:#444" text-anchor="middle">Negative</text>
<text x="670.50" y="255.7" font-size="5.1" fill="#444" class="t" style="color:#444" text-anchor="middle">Positive</text>
<text x="639.1" y="262.8" font-size="6.2" fill="#000" class="t" style="color:#000;stroke-width:0.08" text-anchor="middle">Condition</text>
<text transform="translate(575.2,136.3) rotate(-90)" font-size="6.2" fill="#000" class="t" style="color:#000;stroke-width:0.08" text-anchor="middle">Total Read Number</text>
<line x1="607.60" x2="607.60" y1="226.40" y2="226.40" stroke="#2a2a2a" stroke-width="0.65"/>
<line x1="607.60" x2="607.60" y1="235.70" y2="237.30" stroke="#2a2a2a" stroke-width="0.65"/>
<rect x="599.55" y="226.40" width="16.10" height="9.30" fill="#F8766D" stroke="#2a2a2a" stroke-width="0.65"/>
<line x1="599.55" x2="615.65" y1="234.30" y2="234.30" stroke="#333" stroke-width="1.1"/>
<line x1="628.60" x2="628.60" y1="223.30" y2="223.30" stroke="#2a2a2a" stroke-width="0.65"/>
<line x1="628.60" x2="628.60" y1="236.60" y2="237.30" stroke="#2a2a2a" stroke-width="0.65"/>
<rect x="620.55" y="223.30" width="16.10" height="13.30" fill="#7CAE00" stroke="#2a2a2a" stroke-width="0.65"/>
<line x1="620.55" x2="636.65" y1="236.30" y2="236.30" stroke="#333" stroke-width="1.1"/>
<line x1="649.40" x2="649.40" y1="237.20" y2="237.20" stroke="#2a2a2a" stroke-width="0.65"/>
<line x1="649.40" x2="649.40" y1="237.90" y2="238.00" stroke="#2a2a2a" stroke-width="0.65"/>
<rect x="641.35" y="237.20" width="16.10" height="0.70" fill="#00BFC4" stroke="#2a2a2a" stroke-width="0.65"/>
<line x1="641.35" x2="657.45" y1="237.60" y2="237.60" stroke="#333" stroke-width="1.1"/>
<line x1="670.50" x2="670.50" y1="34.40" y2="63.80" stroke="#2a2a2a" stroke-width="0.65"/>
<line x1="670.50" x2="670.50" y1="122.50" y2="151.80" stroke="#2a2a2a" stroke-width="0.65"/>
<rect x="662.45" y="63.80" width="16.10" height="58.70" fill="#C77CFF" stroke="#2a2a2a" stroke-width="0.65"/>
<line x1="662.45" x2="678.55" y1="93.30" y2="93.30" stroke="#333" stroke-width="1.1"/>
<rect x="599.85" y="233.2" width="15.50" height="2.5" fill="#8f4d48"/>
<line x1="599.55" x2="615.65" y1="233.2" y2="233.2" stroke="#2a2a2a" stroke-width="0.9"/>
<circle cx="607.50" cy="211.80" r="1.5" fill="#222"/>
<circle cx="628.50" cy="194.40" r="1.5" fill="#222"/>
<circle cx="628.50" cy="202.20" r="1.5" fill="#222"/>
</svg></body></html>
